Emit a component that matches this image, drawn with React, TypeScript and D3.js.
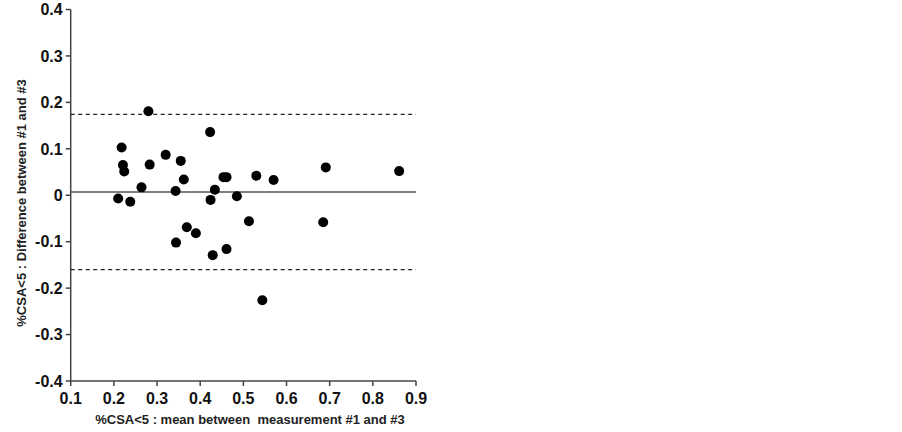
import React from "react";
import * as d3 from "d3";

const meanX = [0.280, 0.423, 0.218, 0.320, 0.355, 0.221, 0.283, 0.224, 0.691, 0.861, 0.362, 0.454, 0.461, 0.530, 0.570, 0.264, 0.343, 0.434, 0.210, 0.238, 0.424, 0.485, 0.513, 0.685, 0.369, 0.390, 0.344, 0.461, 0.429, 0.544];
const diffY = [0.181, 0.136, 0.103, 0.087, 0.074, 0.065, 0.066, 0.051, 0.060, 0.052, 0.034, 0.039, 0.039, 0.042, 0.033, 0.017, 0.009, 0.012, -0.007, -0.014, -0.010, -0.002, -0.056, -0.058, -0.069, -0.082, -0.102, -0.116, -0.129, -0.226];
const xTicks = [0.1, 0.2, 0.3, 0.4, 0.5, 0.6, 0.7, 0.8, 0.9];
const yTicks = [-0.4, -0.3, -0.2, -0.1, 0, 0.1, 0.2, 0.3, 0.4];
const biasLine = 0.007;
const upperLimit = 0.174;
const lowerLimit = -0.16;
const xTitle = "%CSA<5 : mean between\u00a0 measurement #1 and #3";
const yTitle = "%CSA<5 : Difference between #1 and #3";

export default function App() {
  const x = d3.scaleLinear().domain([0.1, 0.9]).range([70.7, 416]);
  const y = d3.scaleLinear().domain([-0.4, 0.4]).range([381, 9.5]);
  const font = "'Liberation Sans', Arial, Helvetica, sans-serif";
  const fmt = (v: number) => (Math.abs(v) < 1e-9 ? "0" : v.toFixed(1));
  return (
    <svg width={902} height={432} style={{ position: "absolute", left: 0, top: 0, background: "#fff" }} fontFamily={font}>
      {/* axes */}
      <line x1={x(0.1)} x2={x(0.1)} y1={y(0.4)} y2={y(-0.4)} stroke="#444" strokeWidth={1.5} />
      <line x1={x(0.1)} x2={x(0.9)} y1={y(-0.4)} y2={y(-0.4)} stroke="#444" strokeWidth={1.5} />
      {yTicks.map((t) => (
        <g key={"y" + t}>
          <line x1={x(0.1) - 5} x2={x(0.1)} y1={y(t)} y2={y(t)} stroke="#444" strokeWidth={1.5} />
          <text x={x(0.1) - 8} y={y(t)} dy="0.36em" textAnchor="end" fontSize={16} fontWeight="bold" fill="#111">
            {fmt(t)}
          </text>
        </g>
      ))}
      {xTicks.map((t) => (
        <g key={"x" + t}>
          <line x1={x(t)} x2={x(t)} y1={y(-0.4)} y2={y(-0.4) + 5} stroke="#444" strokeWidth={1.5} />
          <text x={x(t)} y={y(-0.4) + 23} textAnchor="middle" fontSize={16} fontWeight="bold" fill="#111">
            {fmt(t)}
          </text>
        </g>
      ))}
      {/* reference lines */}
      <line x1={x(0.1)} x2={x(0.9)} y1={y(biasLine)} y2={y(biasLine)} stroke="#555" strokeWidth={1.3} />
      <line x1={x(0.1)} x2={x(0.9)} y1={y(upperLimit)} y2={y(upperLimit)} stroke="#222" strokeWidth={1.2} strokeDasharray="4,3.5" />
      <line x1={x(0.1)} x2={x(0.9)} y1={y(lowerLimit)} y2={y(lowerLimit)} stroke="#222" strokeWidth={1.2} strokeDasharray="4,3.5" />
      {/* points */}
      {meanX.map((v, i) => (
        <circle key={i} cx={x(v)} cy={y(diffY[i])} r={5} fill="#000" />
      ))}
      {/* titles */}
      <text x={250} y={424} textAnchor="middle" fontSize={13} fontWeight="bold" fill="#222">
        {xTitle}
      </text>
      <text transform={`translate(26,${203}) rotate(-90)`} textAnchor="middle" fontSize={13} fontWeight="bold" fill="#222">
        {yTitle}
      </text>
    </svg>
  );
}
